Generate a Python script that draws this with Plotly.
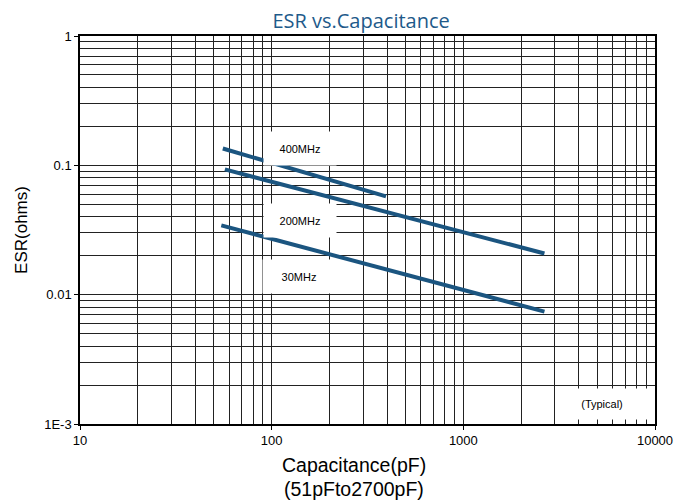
import plotly.graph_objects as go
import math

# Data (log-log straight lines)
cap_400 = [55.6, 395]
esr_400 = [0.135, 0.0575]
cap_200 = [57, 2650]
esr_200 = [0.093, 0.0208]
cap_30 = [54.6, 2650]
esr_30 = [0.0343, 0.0074]

x_tickvals = [10, 100, 1000, 10000]
x_ticktext = ["10", "100", "1000", "10000"]
y_tickvals = [0.001, 0.01, 0.1, 1]
y_ticktext = ["1E-3", "0.01", "0.1", "1"]

labels = ["400MHz", "200MHz", "30MHz"]
label_x = [141.0, 141.0, 139]
label_y = [0.136, 0.0373, 0.0138]

line_color = "#1b5580"
grid_color = "#222222"
font_family = "Liberation Sans, Arial, sans-serif"

fig = go.Figure()
for cx, ey in [(cap_400, esr_400), (cap_200, esr_200), (cap_30, esr_30)]:
    fig.add_trace(go.Scatter(x=cx, y=ey, mode="lines",
                             line=dict(color=line_color, width=4),
                             showlegend=False, hoverinfo="skip"))

axis_common = dict(
    type="log",
    showline=True, linecolor="black", linewidth=1.5, mirror=True,
    showgrid=True, gridcolor=grid_color, gridwidth=1,
    ticks="outside", ticklen=4, tickcolor="black",
    tickfont=dict(family=font_family, size=13, color="black"),
    minor=dict(dtick="D1", showgrid=True, gridcolor=grid_color, gridwidth=1, ticks=""),
    zeroline=False,
)

fig.update_layout(
    width=679, height=492,
    margin=dict(l=66, r=32, t=28, b=76),
    paper_bgcolor="white", plot_bgcolor="white",
    title=dict(text="ESR vs.Capacitance", x=0.52, xanchor="center",
               yref="container", y=0.9736, yanchor="middle",
               font=dict(family="Open Sans, sans-serif", size=20, color="#1e5a8a")),
    xaxis=dict(axis_common, range=[1, 4], tickvals=x_tickvals, ticktext=x_ticktext),
    yaxis=dict(axis_common, range=[-3, 0], tickvals=y_tickvals, ticktext=y_ticktext,
               title=dict(text="ESR(ohms)", standoff=12,
                          font=dict(family=font_family, size=17, color="black"))),
)

for t, lx, ly in zip(labels, label_x, label_y):
    fig.add_annotation(x=math.log10(lx), y=math.log10(ly), xref="x", yref="y",
                       text=t, showarrow=False, bgcolor="white",
                       width=70, height=31,
                       font=dict(family=font_family, size=11, color="black"))

fig.add_annotation(x=math.log10(5320), y=math.log10(0.001426), xref="x", yref="y",
                   text="(Typical)", showarrow=False, bgcolor="white",
                   width=88, height=28,
                   font=dict(family=font_family, size=11, color="black"))

fig.add_annotation(x=0.477, y=-0.1057, xref="paper", yref="paper",
                   text="Capacitance(pF)", showarrow=False,
                   xanchor="center", yanchor="middle",
                   font=dict(family=font_family, size=19.5, color="black"))

fig.add_annotation(x=0.477, y=-0.1675, xref="paper", yref="paper",
                   text="(51pFto2700pF)", showarrow=False,
                   xanchor="center", yanchor="middle",
                   font=dict(family=font_family, size=19.5, color="black"))

fig.write_html("out.html")
